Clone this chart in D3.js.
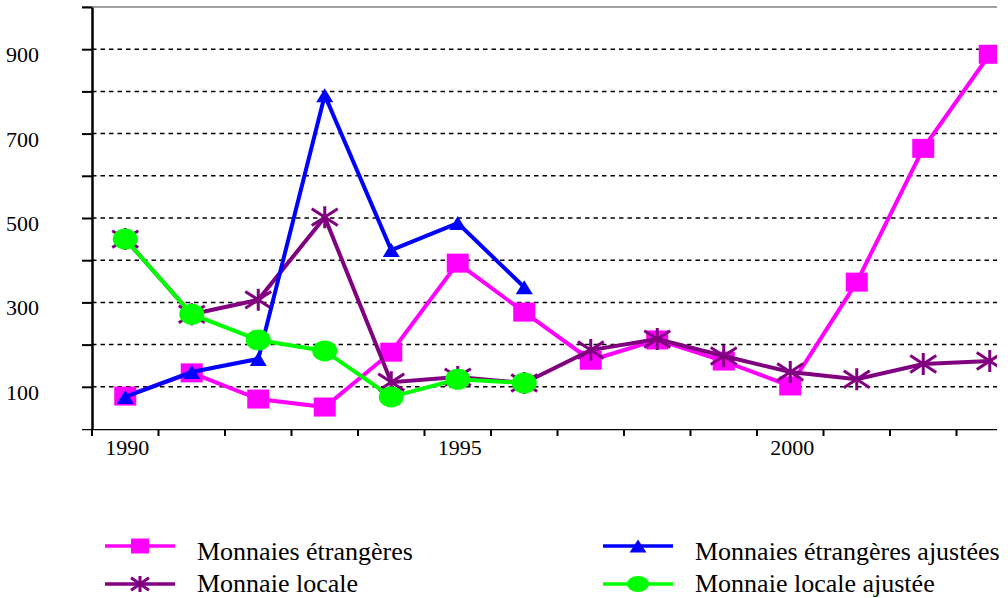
<!DOCTYPE html>
<html>
<head>
<meta charset="utf-8">
<script src="https://cdn.jsdelivr.net/npm/d3@7"></script>
<style>
  body { margin: 0; background: #fff; }
  text { font-family: "Liberation Serif", "DejaVu Serif", serif; }
</style>
</head>
<body>
<svg id="chart" width="1008" height="598"></svg>
<script>
// data
var years = [1990, 1991, 1992, 1993, 1994, 1995, 1996, 1997, 1998, 1999, 2000, 2001, 2002, 2003];
var yearLabels = [1990, 1995, 2000];
var etrangeres = [78, 133, 71, 52, 182, 393, 277, 163, 211, 161, 102, 348, 665, 888];
var etrangeresAjustees = [76, 135, 166, 791, 424, 488, 336];
var locale = [450, 272, 306, 502, 111, 123, 109, 187, 213, 173, 135, 118, 154, 161];
var localeAjustee = [450, 272, 211, 185, 76, 118, 109];
var gridValues = [100, 200, 300, 400, 500, 600, 700, 800, 900];
var yLabels = [100, 300, 500, 700, 900];

var serif = "'Liberation Serif', 'Times New Roman', serif";

var svg = d3.select("#chart");

var plotLeft = 92, plotRight = 997, plotTop = 7, plotBottom = 429;

var x = d3.scaleBand()
  .domain(years)
  .range([plotLeft, plotLeft + 14 * 66.5]);

var y = d3.scaleLinear()
  .domain([0, 1000])
  .range([plotBottom, plotTop]);

function cx(d, i) { return x(years[i]) + x.bandwidth() / 2; }

// clip to the visible plot area (right side is cut off)
svg.append("defs").append("clipPath").attr("id", "plotclip")
  .append("rect")
  .attr("x", plotLeft - 12).attr("y", 0)
  .attr("width", plotRight - plotLeft + 12).attr("height", plotBottom + 10);

// top border
svg.append("line")
  .attr("x1", plotLeft - 10).attr("x2", plotRight)
  .attr("y1", y(1000)).attr("y2", y(1000))
  .attr("stroke", "#808080").attr("stroke-width", 1.5);

// dashed gridlines
svg.append("g").selectAll("line")
  .data(gridValues)
  .enter().append("line")
  .attr("x1", plotLeft).attr("x2", plotRight)
  .attr("y1", function (d) { return y(d); })
  .attr("y2", function (d) { return y(d); })
  .attr("stroke", "#000").attr("stroke-width", 1.5)
  .attr("stroke-dasharray", "4.5,4");

// y axis
var yAxis = d3.axisLeft(y)
  .tickValues(gridValues.concat([1000]))
  .tickSize(10)
  .tickSizeOuter(0)
  .tickFormat("");
var gy = svg.append("g")
  .attr("transform", "translate(" + plotLeft + ",0)")
  .call(yAxis);
gy.select(".domain").attr("stroke", "#000").attr("stroke-width", 2.5);
gy.selectAll(".tick line").attr("stroke", "#000").attr("stroke-width", 2);

svg.append("g").selectAll("text")
  .data(yLabels)
  .enter().append("text")
  .attr("x", 39)
  .attr("y", function (d) { return y(d) + 13; })
  .attr("text-anchor", "end")
  .attr("font-family", serif)
  .attr("font-size", 22)
  .text(function (d) { return d; });

// x axis
var gx = svg.append("g")
  .attr("clip-path", "url(#plotclip)")
  .attr("transform", "translate(0," + plotBottom + ")");
gx.append("line")
  .attr("x1", plotLeft - 10).attr("x2", plotRight)
  .attr("stroke", "#000").attr("stroke-width", 2.5);
gx.selectAll(".xtick")
  .data(years)
  .enter().append("line")
  .attr("class", "xtick")
  .attr("x1", function (d) { return x(d); })
  .attr("x2", function (d) { return x(d); })
  .attr("y1", 0).attr("y2", 7)
  .attr("stroke", "#000").attr("stroke-width", 2);

svg.append("g").selectAll("text")
  .data(yearLabels)
  .enter().append("text")
  .attr("x", function (d) { return x(d) + x.bandwidth() / 2 + 2; })
  .attr("y", plotBottom + 26)
  .attr("text-anchor", "middle")
  .attr("font-family", serif)
  .attr("font-size", 22)
  .text(function (d) { return d; });

var plot = svg.append("g").attr("clip-path", "url(#plotclip)");

var line = d3.line()
  .x(cx)
  .y(function (d) { return y(d); });

// marker drawing helpers
function square(g, w, h, color) {
  g.append("rect").attr("x", -w / 2).attr("y", -h / 2)
    .attr("width", w).attr("height", h).attr("fill", color);
}
function triangle(g, w, h, color) {
  g.append("path")
    .attr("d", "M0," + (-h / 2) + "L" + (w / 2) + "," + (h / 2) + "L" + (-w / 2) + "," + (h / 2) + "Z")
    .attr("fill", color);
}
function asterisk(g, w, h, color) {
  g.append("path")
    .attr("d", "M0," + (-h / 2) + "V" + (h / 2)
      + "M" + (-w / 2) + "," + (-h / 2.6) + "L" + (w / 2) + "," + (h / 2.6)
      + "M" + (-w / 2) + "," + (h / 2.6) + "L" + (w / 2) + "," + (-h / 2.6))
    .attr("stroke", color).attr("stroke-width", 3).attr("fill", "none");
}
function blob(g, w, h, color) {
  g.append("ellipse").attr("rx", w / 2).attr("ry", h / 2).attr("fill", color);
}

var series = [
  {name: "Monnaies étrangères", values: etrangeres, color: "#ff00ff", marker: square, mw: 22, mh: 19, lw: 18, lh: 15},
  {name: "Monnaie locale", values: locale, color: "#800080", marker: asterisk, mw: 26, mh: 22, lw: 18, lh: 16},
  {name: "Monnaies étrangères ajustées", values: etrangeresAjustees, color: "#0000ff", marker: triangle, mw: 17, mh: 14, lw: 17, lh: 13},
  {name: "Monnaie locale ajustée", values: localeAjustee, color: "#00ff00", marker: blob, mw: 25, mh: 21, lw: 22, lh: 16}
];

series.forEach(function (s) {
  var g = plot.append("g");
  g.append("path")
    .datum(s.values)
    .attr("d", line)
    .attr("fill", "none")
    .attr("stroke", s.color)
    .attr("stroke-width", 4)
    .attr("stroke-linejoin", "miter");
  g.selectAll(".m")
    .data(s.values)
    .enter().append("g")
    .attr("class", "m")
    .attr("transform", function (d, i) { return "translate(" + cx(d, i) + "," + y(d) + ")"; })
    .each(function () { s.marker(d3.select(this), s.mw, s.mh, s.color); });
});

// legend
var legendPos = [
  {x: 105, y: 546, ty: 14},
  {x: 105, y: 584, ty: 8},
  {x: 603, y: 546, ty: 14},
  {x: 603, y: 584, ty: 8}
];
series.forEach(function (s, i) {
  var p = legendPos[i];
  var lg = svg.append("g").attr("transform", "translate(" + p.x + "," + p.y + ")");
  lg.append("line").attr("x1", 0).attr("x2", 70)
    .attr("stroke", s.color).attr("stroke-width", 3.5);
  var mk = lg.append("g").attr("transform", "translate(35,0)");
  s.marker(mk, s.lw, s.lh, s.color);
  lg.append("text")
    .attr("x", 92).attr("y", p.ty)
    .attr("font-family", serif)
    .attr("font-size", 26)
    .text(s.name);
});
</script>
</body>
</html>
